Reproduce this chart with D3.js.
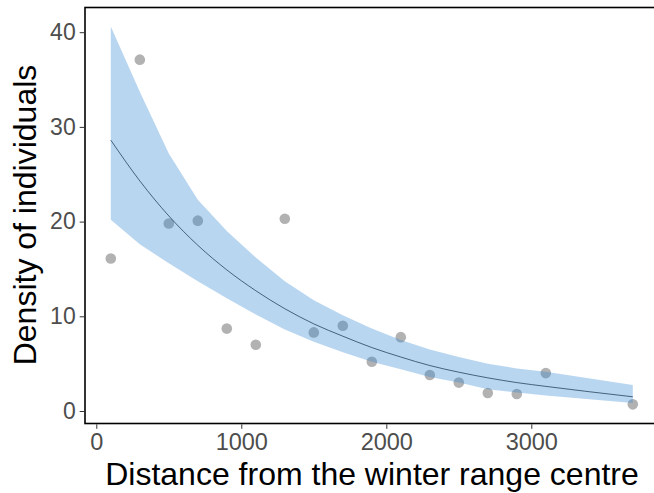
<!DOCTYPE html>
<html>
<head>
<meta charset="utf-8">
<script src="https://cdn.jsdelivr.net/npm/d3@7"></script>
<style>
  html, body { margin: 0; padding: 0; background: #fff; }
  svg { display: block; }
</style>
</head>
<body>
<svg id="chart" width="654" height="493"></svg>
<script>
// Observed densities
const distance = [100, 300, 500, 700, 900, 1100, 1300, 1500, 1700, 1900, 2100, 2300, 2500, 2700, 2900, 3100, 3700];
const density  = [16.1, 37.1, 19.8, 20.1, 8.7, 7.0, 20.3, 8.3, 9.0, 5.2, 7.8, 3.8, 3.0, 1.9, 1.8, 4.0, 0.7];

// Fitted curve and confidence band (at observed distances)
const fitX   = [100, 300, 500, 700, 900, 1100, 1300, 1500, 1700, 1900, 2100, 2300, 2500, 2700, 2900, 3100, 3700];
const fitY   = [28.6, 24.3, 20.6, 17.5, 14.9, 12.7, 10.8, 9.2, 7.9, 6.7, 5.7, 4.8, 4.1, 3.5, 3.0, 2.6, 1.5];
const upperY = [40.6, 33.7, 27.2, 22.3, 19.0, 16.2, 13.7, 11.7, 10.1, 8.7, 7.5, 6.5, 5.7, 5.0, 4.5, 4.15, 2.75];
const lowerY = [20.2, 17.6, 15.6, 13.7, 11.9, 10.2, 8.6, 7.3, 6.2, 5.2, 4.4, 3.6, 3.0, 2.3, 1.95, 1.65, 0.85];

const xTicks = [0, 1000, 2000, 3000];
const yTicks = [0, 10, 20, 30, 40];
const xTitle = "Distance from the winter range centre";
const yTitle = "Density of individuals";

const svg = d3.select("#chart");
const panel = { left: 85, top: 7.5, right: 660, bottom: 423.5 };

const x = d3.scaleLinear().domain([0, 3000]).range([96.3, 531.3]);
const y = d3.scaleLinear().domain([0, 40]).range([411, 32.2]);

svg.append("defs").append("clipPath").attr("id", "clip")
  .append("rect")
  .attr("x", panel.left).attr("y", panel.top)
  .attr("width", panel.right - panel.left).attr("height", panel.bottom - panel.top);

const g = svg.append("g").attr("clip-path", "url(#clip)");

// points (under the band)
g.selectAll("circle.pt").data(distance.map((d, i) => [d, density[i]]))
  .join("circle")
  .attr("class", "pt")
  .attr("cx", d => x(d[0]))
  .attr("cy", d => y(d[1]))
  .attr("r", 5.3)
  .attr("fill", "#b2b2b2");

// fitted line
const fitData = fitX.map((d, i) => [d, fitY[i]]);
g.append("path")
  .datum(fitData)
  .attr("fill", "none")
  .attr("stroke", "#000")
  .attr("stroke-width", 0.7)
  .attr("d", d3.line().x(d => x(d[0])).y(d => y(d[1])).curve(d3.curveMonotoneX));

// confidence band (semi-transparent, on top)
const bandData = fitX.map((d, i) => ({ x: d, lo: lowerY[i], hi: upperY[i] }));
g.append("path")
  .datum(bandData)
  .attr("fill", "rgb(55,138,212)")
  .attr("fill-opacity", 0.35)
  .attr("d", d3.area().x(d => x(d.x)).y0(d => y(d.lo)).y1(d => y(d.hi)));

// panel border
svg.append("rect")
  .attr("x", panel.left).attr("y", panel.top)
  .attr("width", panel.right - panel.left).attr("height", panel.bottom - panel.top)
  .attr("fill", "none").attr("stroke", "#000").attr("stroke-width", 1.6);

// x axis
const xAxis = d3.axisBottom(x).tickValues(xTicks).tickSize(4.5).tickPadding(5).tickFormat(d3.format("d"));
const gx = svg.append("g").attr("transform", `translate(0,${panel.bottom + 0.8})`).call(xAxis);
gx.select(".domain").remove();
gx.selectAll(".tick line").attr("stroke", "#333").attr("stroke-width", 1);
gx.selectAll(".tick text")
  .attr("fill", "#4d4d4d")
  .attr("font-family", "Liberation Sans, Arial, sans-serif")
  .attr("font-size", 23.5);

// y axis
const yAxis = d3.axisLeft(y).tickValues(yTicks).tickSize(4.5).tickPadding(4);
const gy = svg.append("g").attr("transform", `translate(${panel.left - 0.8},0)`).call(yAxis);
gy.select(".domain").remove();
gy.selectAll(".tick line").attr("stroke", "#333").attr("stroke-width", 1);
gy.selectAll(".tick text")
  .attr("fill", "#4d4d4d")
  .attr("font-family", "Liberation Sans, Arial, sans-serif")
  .attr("font-size", 23);

// titles
svg.append("text")
  .attr("x", 372).attr("y", 485)
  .attr("text-anchor", "middle")
  .attr("font-family", "Liberation Sans, Arial, sans-serif")
  .attr("font-size", 32)
  .attr("fill", "#000")
  .text(xTitle);

svg.append("text")
  .attr("transform", "translate(36,215) rotate(-90)")
  .attr("text-anchor", "middle")
  .attr("font-family", "Liberation Sans, Arial, sans-serif")
  .attr("font-size", 32)
  .attr("fill", "#000")
  .text(yTitle);
</script>
</body>
</html>
